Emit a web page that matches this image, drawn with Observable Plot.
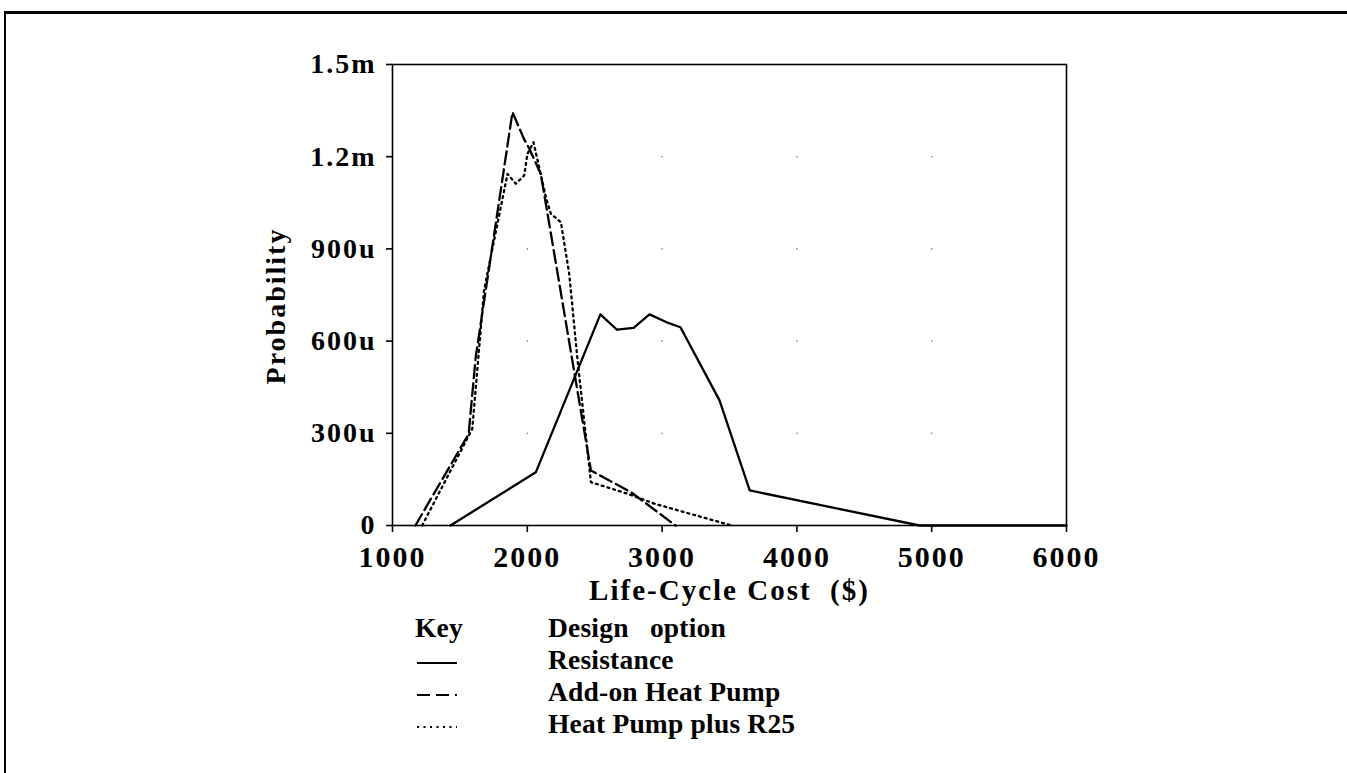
<!DOCTYPE html>
<html><head><meta charset="utf-8">
<script src="https://cdn.jsdelivr.net/npm/d3@7"></script>
<script src="https://cdn.jsdelivr.net/npm/@observablehq/plot@0.6"></script>
<style>
body{margin:0;background:#fff;}
#page{position:relative;width:1347px;height:773px;overflow:hidden;font-family:"Liberation Serif","Times New Roman",serif;font-weight:bold;color:#000;}
#border{position:absolute;left:4px;top:11px;width:1400px;height:800px;border-top:3px solid #000;border-left:2px solid #000;}
#chart{position:absolute;left:0;top:0;}
#legend{position:absolute;left:415px;top:612px;font-size:27.5px;line-height:32px;letter-spacing:0.2px;display:grid;grid-template-columns:133px auto;}
#legend svg{display:block;}
</style>
</head><body>
<div id="page"><div id="border"></div><div id="chart"></div><div id="legend"></div></div>
<script>
// Axis ticks
const xTicks = [1000, 2000, 3000, 4000, 5000, 6000];
const yTicks = [0, 3e-4, 6e-4, 9e-4, 1.2e-3, 1.5e-3];
const yTickLabels = ["0", "300u", "600u", "900u", "1.2m", "1.5m"];
const gridX = [2000, 3000, 4000, 5000];
const gridY = [3e-4, 6e-4, 9e-4, 1.2e-3];
const xTitle = "Life-Cycle Cost  ($)";
const yTitle = "Probability";

// Series
const seriesNames = ["Resistance", "Add-on Heat Pump", "Heat Pump plus R25"];
const seriesDash = [null, "13,5", "2,4"];

const resistanceCost = [1430, 2063, 2542, 2665, 2789, 2906, 3030, 3136, 3426, 3650, 4910, 6000];
const resistanceProb = [0, 173e-6, 687e-6, 637e-6, 643e-6, 687e-6, 662e-6, 645e-6, 407e-6, 114e-6, 0, 0];

const addonCost = [1170, 1565, 1617, 1890, 1975, 2015, 2100, 2472, 2770, 3100];
const addonProb = [0, 298e-6, 547e-6, 1345e-6, 1258e-6, 1226e-6, 1144e-6, 179e-6, 108e-6, 0];

const r25Cost = [1220, 1592, 1679, 1853, 1915, 1977, 2001, 2046, 2138, 2175, 2249, 2311, 2373, 2472, 2745, 2943, 3515];
const r25Prob = [0, 315e-6, 765e-6, 1144e-6, 1112e-6, 1139e-6, 1209e-6, 1247e-6, 1068e-6, 1014e-6, 987e-6, 819e-6, 537e-6, 141e-6, 103e-6, 71e-6, 0];

const toRows = (xs, ys) => xs.map((x, i) => ({x, y: ys[i]}));
const series = [toRows(resistanceCost, resistanceProb), toRows(addonCost, addonProb), toRows(r25Cost, r25Prob)];
const grid = gridX.flatMap(x => gridY.map(y => ({x, y})));

const chart = Plot.plot({
  width: 1347, height: 620,
  marginLeft: 392, marginRight: 281, marginTop: 64, marginBottom: 95,
  style: {fontFamily: "'Liberation Serif','Times New Roman',serif", fontWeight: "bold", background: "transparent", color: "#000", letterSpacing: "2px"},
  x: {domain: [1000, 6000]},
  y: {domain: [0, 1.5e-3]},
  marks: [
    Plot.dot(grid, {x: "x", y: "y", r: 0.8, fill: "#777", stroke: null}),
    Plot.frame({stroke: "#000", strokeWidth: 1.6}),
    Plot.axisX({ticks: xTicks, tickFormat: d => String(d), tickSize: 7, tickPadding: 13, fontSize: 30,
      label: null, strokeWidth: 1.6}),
    Plot.axisY({ticks: yTicks, tickFormat: (d, i) => yTickLabels[i], tickSize: 6, tickPadding: 10, fontSize: 28,
      label: null, strokeWidth: 1.6}),
    Plot.text([xTitle], {text: d => d, frameAnchor: "bottom", textAnchor: "middle", lineAnchor: "bottom", dy: 74, fontSize: 29}),
    Plot.text([yTitle], {text: d => d, frameAnchor: "left", rotate: -90, textAnchor: "middle", lineAnchor: "top", dx: -127, dy: 11, fontSize: 28}),
    ...series.map((rows, i) => Plot.line(rows, {x: "x", y: "y", stroke: "#000", strokeWidth: 2.3, strokeDasharray: seriesDash[i]}))
  ]
});
document.getElementById("chart").appendChild(chart);

// Legend
const legend = document.getElementById("legend");
const cell = (html) => { const d = document.createElement("div"); d.innerHTML = html; legend.appendChild(d); };
cell("Key"); cell("Design&nbsp;&nbsp;&nbsp;option");
seriesNames.forEach((name, i) => {
  const dash = seriesDash[i] ? `stroke-dasharray="${i === 2 ? "2,4.5" : "13,6"}"` : "";
  cell(`<svg width="44" height="32"><line x1="2" x2="42" y1="19" y2="19" stroke="#000" stroke-width="2" ${dash}/></svg>`);
  cell(name);
});
</script>
</body></html>
